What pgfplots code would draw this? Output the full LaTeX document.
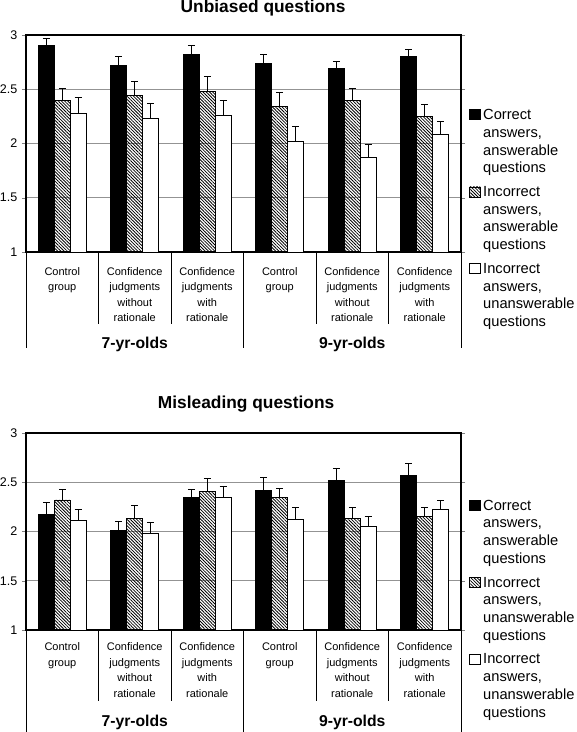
\documentclass[border=0pt]{standalone}
\usepackage{pgfplots}
\pgfplotsset{compat=1.18}
\usepackage{fontspec}
\setmainfont{Liberation Sans}
\usetikzlibrary{patterns.meta}

\tikzset{hatch/.style={pattern={Lines[angle=-45,distance=1.7pt,line width=0.6pt]}, pattern color=black}}

\pgfplotsset{
  mybars/.style={
    scale only axis, width=326.25pt, xmin=-0.5, xmax=5.5, ymin=1, ymax=3,
    clip=false,
    axis line style={black, line width=0.8pt},
    ytick={1,1.5,2,2.5,3},
    ytick align=outside, major tick length=3pt,
    ymajorgrids, grid style={gray!85, line width=0.6pt},
    yticklabel style={font=\fontsize{9.4}{11}\selectfont},
    /pgf/number format/assume math mode=true,
    xtick={0,...,5},
    x tick style={draw=none},
    xticklabels={{Control\\group},{Confidence\\judgments\\without\\rationale},{Confidence\\judgments\\with\\rationale},{Control\\group},{Confidence\\judgments\\without\\rationale},{Confidence\\judgments\\with\\rationale}},
    xticklabel style={align=center, font=\fontsize{8.25}{11.6}\selectfont, anchor=north},
    ybar, bar width=0.22,
    every axis plot/.append style={draw=black, line width=0.7pt},
    error bars/y dir=plus, error bars/y explicit,
    error bars/error bar style={black, line width=0.8pt},
    error bars/error mark options={black, line width=0.8pt, mark size=2.6pt, rotate=90},
    legend style={draw=none, fill=none, anchor=north west, inner xsep=0pt, inner ysep=0pt,
      font=\fontsize{11}{13.3}\selectfont, nodes={align=left, inner sep=1pt},
      cells={anchor=north west}, row sep=6.5pt, column sep=1pt},
    legend image code/.code={\draw[#1, line width=0.6pt] (0pt,-1.6pt) rectangle (8pt,-9.1pt);},
  },
  seps/.style n args={6}{
    after end axis/.append code={
      \draw[black, line width=0.6pt] (axis cs:0.5,1) -- ++(0,-#1);
      \draw[black, line width=0.6pt] (axis cs:1.5,1) -- ++(0,-#1);
      \draw[black, line width=0.6pt] (axis cs:3.5,1) -- ++(0,-#1);
      \draw[black, line width=0.6pt] (axis cs:4.5,1) -- ++(0,-#1);
      \draw[black, line width=0.6pt] (axis cs:-0.5,1) -- ++(0,-#2);
      \draw[black, line width=0.6pt] (axis cs:2.5,1) -- ++(0,-#2);
      \draw[black, line width=0.6pt] (axis cs:5.5,1) -- ++(0,-#2);
      \node[font=\bfseries\fontsize{11.8}{14}\selectfont] at ([yshift=-#3]axis cs:1,1) {7-yr-olds};
      \node[font=\bfseries\fontsize{11.8}{14}\selectfont] at ([yshift=-#3]axis cs:4,1) {9-yr-olds};
      \node[font=\bfseries\fontsize{13}{15}\selectfont, anchor=base, inner sep=0pt] at ([yshift=#5]rel axis cs:#4,1) {#6};
    }
  },
}

\begin{document}
\begin{tikzpicture}
\path[use as bounding box] (0,0) rectangle (432pt,549pt);

% ---------- Top: Unbiased questions ----------
\begin{axis}[mybars, seps={54pt}{72pt}{69pt}{0.545}{16.5pt}{Unbiased questions},
  height=162.75pt, at={(19.5pt,360pt)}, anchor=south west,
  xticklabel style={yshift=-5pt},
  legend style={at={(1.018,0.666)}}]
\addplot[fill=black, bar shift=-0.22] coordinates {
 (0,2.90) +- (0,0.07) (1,2.72) +- (0,0.08) (2,2.82) +- (0,0.08)
 (3,2.74) +- (0,0.08) (4,2.69) +- (0,0.07) (5,2.80) +- (0,0.07)};
\addlegendentry{Correct\\answers,\\answerable\\questions}
\addplot[hatch, bar shift=0] coordinates {
 (0,2.40) +- (0,0.11) (1,2.44) +- (0,0.13) (2,2.48) +- (0,0.14)
 (3,2.34) +- (0,0.13) (4,2.40) +- (0,0.11) (5,2.25) +- (0,0.11)};
\addlegendentry{Incorrect\\answers,\\answerable\\questions}
\addplot[fill=white, bar shift=0.22] coordinates {
 (0,2.28) +- (0,0.14) (1,2.23) +- (0,0.14) (2,2.26) +- (0,0.14)
 (3,2.02) +- (0,0.14) (4,1.87) +- (0,0.12) (5,2.08) +- (0,0.12)};
\addlegendentry{Incorrect\\answers,\\unanswerable\\questions}
\end{axis}

% ---------- Bottom: Misleading questions ----------
\begin{axis}[mybars, seps={53pt}{77pt}{69pt}{0.506}{18.5pt}{Misleading questions},
  height=147.75pt, at={(19.5pt,76.5pt)}, anchor=south west,
  xticklabel style={yshift=-3pt},
  legend style={at={(1.018,0.67)}}]
\addplot[fill=black, bar shift=-0.22] coordinates {
 (0,2.17) +- (0,0.12) (1,2.01) +- (0,0.09) (2,2.345) +- (0,0.085)
 (3,2.415) +- (0,0.135) (4,2.52) +- (0,0.12) (5,2.57) +- (0,0.12)};
\addlegendentry{Correct\\answers,\\answerable\\questions}
\addplot[hatch, bar shift=0] coordinates {
 (0,2.32) +- (0,0.11) (1,2.135) +- (0,0.125) (2,2.405) +- (0,0.135)
 (3,2.345) +- (0,0.095) (4,2.135) +- (0,0.105) (5,2.15) +- (0,0.09)};
\addlegendentry{Incorrect\\answers,\\unanswerable\\questions}
\addplot[fill=white, bar shift=0.22] coordinates {
 (0,2.115) +- (0,0.105) (1,1.98) +- (0,0.115) (2,2.345) +- (0,0.115)
 (3,2.125) +- (0,0.115) (4,2.055) +- (0,0.095) (5,2.22) +- (0,0.09)};
\addlegendentry{Incorrect\\answers,\\unanswerable\\questions}
\end{axis}
\end{tikzpicture}
\end{document}
